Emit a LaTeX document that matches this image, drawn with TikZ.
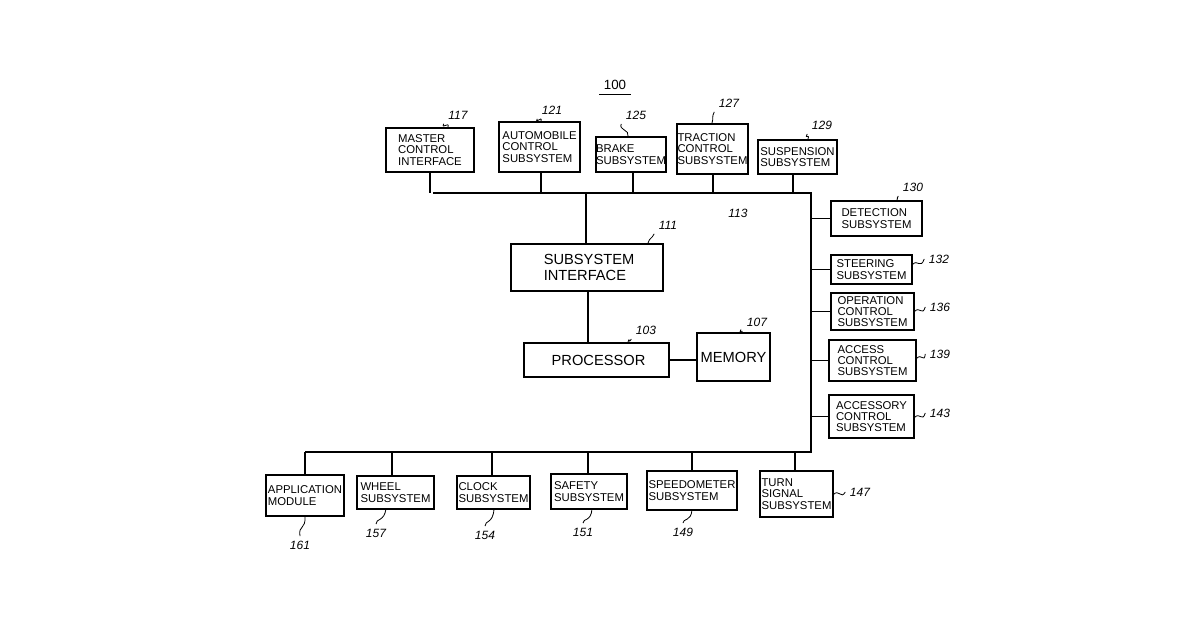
\documentclass[tikz,border=0pt]{standalone}
\usepackage{fontspec}
\setmainfont{Liberation Sans}
\begin{document}
\begin{tikzpicture}[x=0.75pt,y=-0.75pt,
  box/.style={draw,line width=0.9pt,inner sep=0pt,font=\fontsize{8.5}{8.5}\selectfont,align=left},
  big/.style={font=\fontsize{11}{12}\selectfont},
  ln/.style={line width=0.9pt},
  rf/.style={font=\fontsize{9}{9}\selectfont\itshape}]
\useasboundingbox (0,0) rectangle (1200,630);
\newcommand\bx[7][]{\node[box,#1,minimum width={(#4-#2)*0.75pt},minimum height={(#5-#3)*0.75pt}] (#6) at ({(#2+#4)/2},{(#3+#5)/2}) {#7};}
\newcommand\rfl[5]{\node[rf] (#1) at (#2,#3) {#4}; \draw[line width=0.6pt] (#5) .. controls +(2,-6) and +(-3,6) .. (#1.south west);}
\node[rf,font=\fontsize{10}{10}\selectfont] (t100) at (615,85) {100};
\draw[line width=0.6pt] (t100.south west) -- (t100.south east);
% top
\bx{386}{128}{474}{172}{mci}{MASTER\\CONTROL\\ INTERFACE}
\bx{499}{122}{580}{172}{acs}{AUTOMOBILE\\CONTROL\\SUBSYSTEM}
\bx{601}{137}{661}{172}{brk}{BRAKE\\SUBSYSTEM}
\bx{677}{124}{748}{174}{tcs}{TRACTION\\CONTROL\\SUBSYSTEM}
\bx{758}{140}{837}{174}{sus}{SUSPENSION\\SUBSYSTEM}
\coordinate (TL) at (433,193); \coordinate (TR) at (811,193);
\coordinate (BR) at (811,452); \coordinate (BL) at (305,452);
\draw[ln] (TL) -- (TR) -- (BR) -- (BL);
\draw[ln] (mci.south) -- (mci.south |- TL);
\draw[ln] (541,172) -- (541,193);
\draw[ln] (633,172) -- (633,193);
\draw[ln] (713,174) -- (713,193);
\draw[ln] (793,174) -- (793,193);
% center
\bx[big]{511}{244}{663}{291}{si}{\ SUBSYSTEM\\\ INTERFACE}
\bx[big]{524}{343}{669}{377}{pr}{\ PROCESSOR}
\bx[big]{697}{333}{770}{381}{mem}{MEMORY}
\draw[ln] (586,193) -- (586,244);
\draw[ln] (588,291) -- (588,343);
\draw[ln] (669,360) -- (697,360);
% right
\bx{831}{201}{922}{236}{det}{DETECTION\\SUBSYSTEM}
\bx{831}{255}{912}{284}{ste}{STEERING\\SUBSYSTEM}
\bx{831}{293}{914}{330}{opc}{OPERATION\\CONTROL\\SUBSYSTEM}
\bx{829}{340}{916}{381}{acc}{ACCESS\\CONTROL\\SUBSYSTEM}
\bx{829}{395}{914}{438}{acy}{ACCESSORY\\CONTROL\\SUBSYSTEM}
\foreach \n in {det,ste,opc,acc,acy}{\draw[ln] (\n.west) -- (\n.west -| TR);}
% bottom
\bx{266}{475}{344}{516}{app}{APPLICATION\\MODULE}
\bx{357}{476}{434}{509}{whl}{WHEEL\\SUBSYSTEM}
\bx{457}{476}{530}{509}{clk}{CLOCK\\SUBSYSTEM}
\bx{551}{474}{627}{509}{saf}{SAFETY\\SUBSYSTEM}
\bx{647}{471}{737}{510}{spd}{SPEEDOMETER\\SUBSYSTEM}
\bx{760}{471}{833}{517}{trn}{TURN\\SIGNAL\\SUBSYSTEM}
\draw[ln] (BL) -- (305,475);
\draw[ln] (392,452) -- (392,476);
\draw[ln] (492,452) -- (492,476);
\draw[ln] (588,452) -- (588,474);
\draw[ln] (692,452) -- (692,471);
\draw[ln] (795,452) -- (795,471);
% refs
\rfl{r117}{458}{115}{117}{448,127}
\rfl{r121}{552}{110}{121}{541,121}
\rfl{r125}{636}{115}{125}{628,136}
\rfl{r127}{729}{103}{127}{712,123}
\rfl{r129}{822}{125}{129}{808,139}
\rfl{r130}{913}{187}{130}{897,200}
\rfl{r111}{668}{225}{111}{648,243}
\rfl{r103}{646}{330}{103}{628,342}
\rfl{r107}{757}{322}{107}{740,332}
\node[rf] at (738,213) {113};
\node[rf] (r132) at (939,259) {132}; \draw[line width=0.6pt] (912,265) .. controls (918,258) and (920,270) .. (r132.west);
\node[rf] (r136) at (940,307) {136}; \draw[line width=0.6pt] (914,312) .. controls (920,305) and (922,317) .. (r136.west);
\node[rf] (r139) at (940,354) {139}; \draw[line width=0.6pt] (916,359) .. controls (922,352) and (924,364) .. (r139.west);
\node[rf] (r143) at (940,413) {143}; \draw[line width=0.6pt] (914,418) .. controls (920,411) and (922,423) .. (r143.west);
\node[rf] (r147) at (860,492) {147}; \draw[line width=0.6pt] (833,495) .. controls (839,488) and (841,500) .. (r147.west);
\node[rf] (r161) at (300,545) {161}; \draw[line width=0.6pt] (r161.north) .. controls (298,525) and (306,530) .. (305,516);
\node[rf] (r157) at (376,533) {157}; \draw[line width=0.6pt] (r157.north) .. controls (376,518) and (384,522) .. (386,509);
\node[rf] (r154) at (485,535) {154}; \draw[line width=0.6pt] (r154.north) .. controls (485,520) and (493,524) .. (494,509);
\node[rf] (r151) at (583,532) {151}; \draw[line width=0.6pt] (r151.north) .. controls (583,518) and (591,522) .. (592,509);
\node[rf] (r149) at (683,532) {149}; \draw[line width=0.6pt] (r149.north) .. controls (683,518) and (691,522) .. (692,510);
\end{tikzpicture}
\end{document}
